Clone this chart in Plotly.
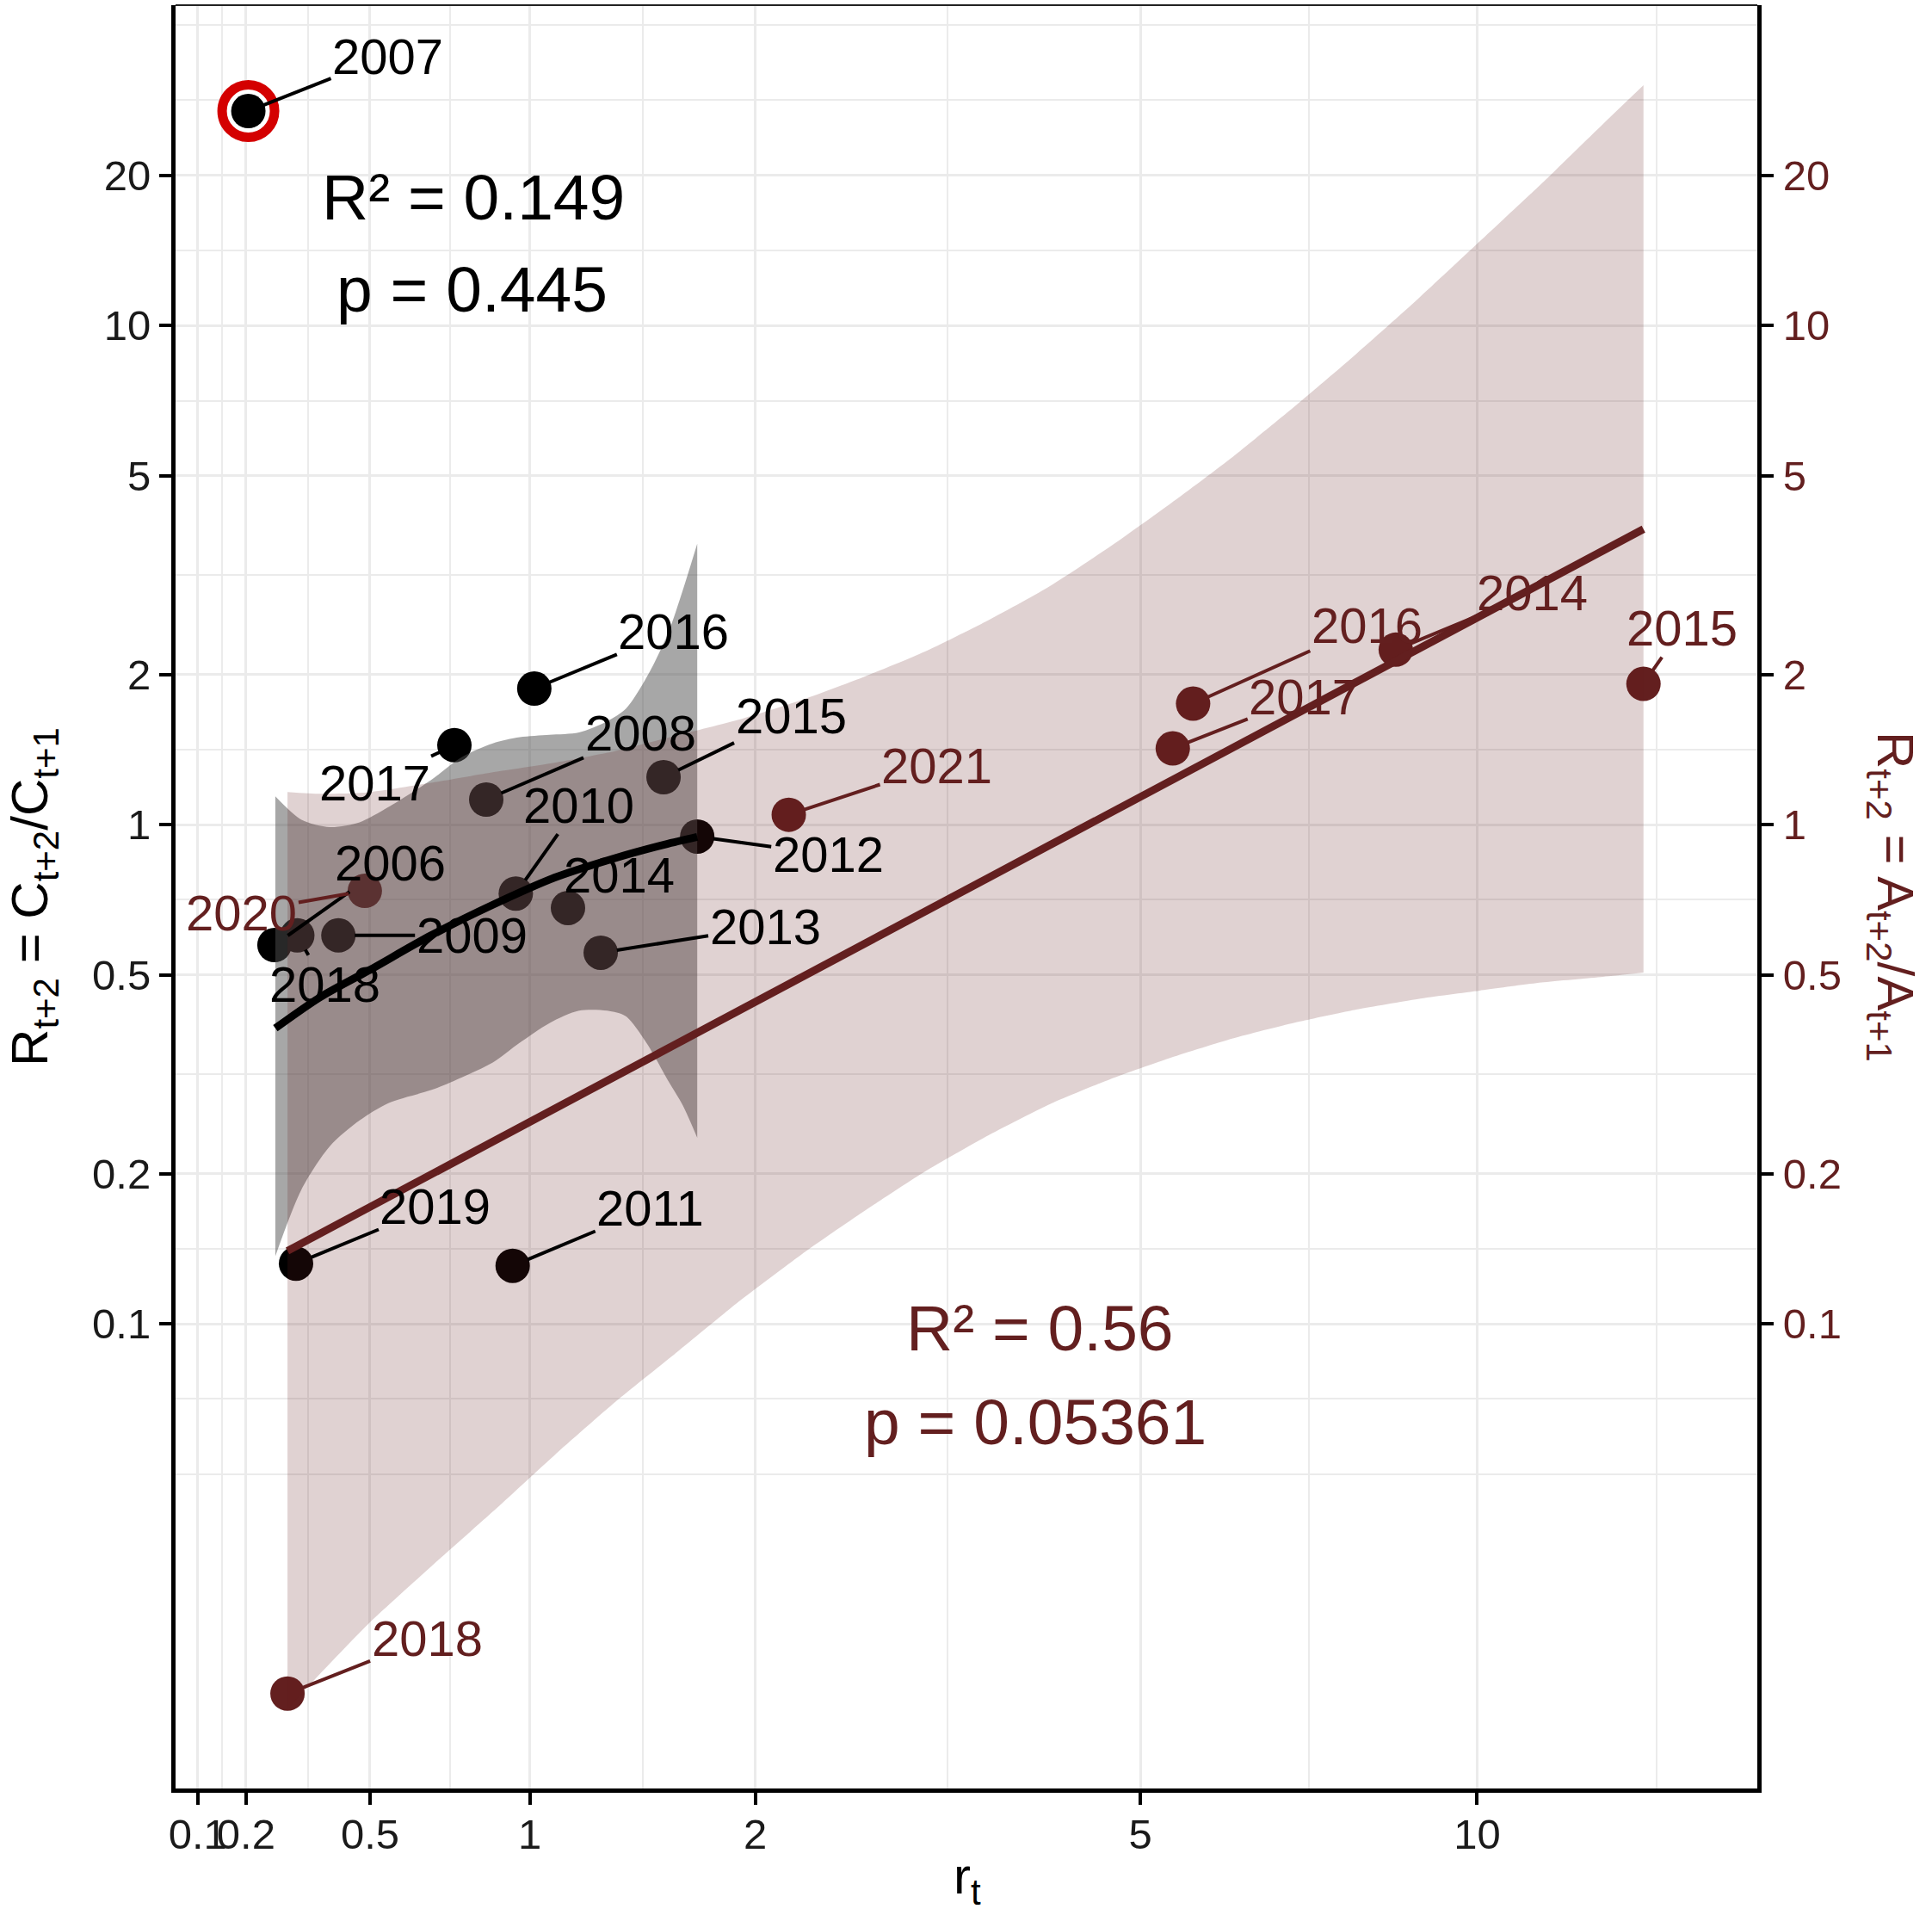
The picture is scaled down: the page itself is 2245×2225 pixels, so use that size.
import math
import plotly.graph_objects as go

# ---------------- data ----------------
# C series: R_{t+2} = C_{t+2}/C_{t+1} versus r_t
c_years = [2006, 2007, 2008, 2009, 2010, 2011, 2012, 2013, 2014, 2015, 2016, 2017, 2018, 2019]
c_r = [0.263, 0.205, 0.849, 0.417, 0.950, 0.939, 1.703, 1.272, 1.142, 1.544, 1.016, 0.746, 0.316, 0.313]
c_R = [0.574, 26.9, 1.123, 0.600, 0.728, 0.1307, 0.947, 0.554, 0.681, 1.245, 1.874, 1.443, 0.600, 0.132]
c_outlier_year = 2007

# A series: R_{t+2} = A_{t+2}/A_{t+1} versus r_t
a_years = [2014, 2015, 2016, 2017, 2018, 2020, 2021]
a_r = [8.502, 13.84, 5.598, 5.361, 0.293, 0.486, 2.187]
a_R = [2.242, 1.915, 1.748, 1.422, 0.01816, 0.737, 1.047]

# smooth fit for C series and its confidence band
c_fit_r = [0.265, 0.371, 0.498, 0.674, 0.871, 1.090, 1.335, 1.552, 1.703]
c_fit_R = [0.391, 0.451, 0.511, 0.600, 0.691, 0.783, 0.858, 0.913, 0.945]
c_band_r = [0.265, 0.326, 0.395, 0.472, 0.549, 0.678, 0.770, 0.871, 0.964, 1.072,
            1.185, 1.299, 1.377, 1.469, 1.564, 1.633, 1.703]
c_band_hi = [1.140, 1.023, 0.989, 1.011, 1.083, 1.234, 1.367, 1.455, 1.497, 1.514,
             1.531, 1.612, 1.707, 1.979, 2.414, 2.945, 3.656]
c_band_lo = [0.1367, 0.1859, 0.2267, 0.2555, 0.2766, 0.2945, 0.3118, 0.3338, 0.3656, 0.4004,
             0.4239, 0.4239, 0.4132, 0.3645, 0.3074, 0.2742, 0.2359]

# linear fit for A series and its confidence band
a_fit_r = [0.293, 13.84]
a_fit_R = [0.140, 3.91]
a_band_r = [0.293, 0.371, 0.498, 0.674, 0.871, 1.090, 1.335, 1.610, 1.916, 2.258, 2.641, 3.069,
            3.546, 4.080, 4.677, 5.343, 6.088, 6.920, 7.850, 8.890, 10.05, 11.35, 12.80, 13.84]
a_band_hi = [1.163, 1.153, 1.162, 1.213, 1.274, 1.331, 1.406, 1.511, 1.624, 1.776, 1.974, 2.220,
             2.555, 2.989, 3.600, 4.410, 5.461, 6.883, 8.774, 11.31, 14.74, 19.23, 25.35, 30.30]
a_band_lo = [0.01692, 0.01990, 0.02516, 0.03263, 0.04204, 0.05452, 0.06990, 0.08804, 0.1110,
             0.1375, 0.1674, 0.2016, 0.2373, 0.2744, 0.3088, 0.3415, 0.3731, 0.4011, 0.4262,
             0.4476, 0.4650, 0.4830, 0.4958, 0.5055]

x_ticks = [0.1, 0.2, 0.5, 1, 2, 5, 10]
x_tick_labels = ["0.1", "0.2", "0.5", "1", "2", "5", "10"]
y_ticks = [0.1, 0.2, 0.5, 1, 2, 5, 10, 20]
y_tick_labels = ["0.1", "0.2", "0.5", "1", "2", "5", "10", "20"]

c_stats = ["R² = 0.149", "p = 0.445"]
a_stats = ["R² = 0.56", "p = 0.05361"]

# ---------------- styling ----------------
BLACK = "#000000"
BROWN = "#631F1F"
RED = "#D40000"
FONT = "Liberation Sans, Arial, Helvetica, sans-serif"
GRID = "#EBEBEB"

# label offsets in pixels (label centre relative to the point)
c_label_off = {2006: (135, -96), 2007: (162, -64), 2008: (179, -77), 2009: (155, 0),
               2010: (73, -103), 2011: (160, -67), 2012: (152, 21), 2013: (191, -30),
               2014: (59, -38), 2015: (148, -72), 2016: (162, -67), 2017: (-93, 44),
               2018: (32, 57), 2019: (162, -67)}
a_label_off = {2014: (159, -66), 2015: (45, -65), 2016: (202, -91), 2017: (153, -60),
               2018: (162, -64), 2020: (-143, 25), 2021: (172, -57)}


def sh(v):
    """r_t is shown on a log(1 + r) scale: plot 1 + r on a log axis."""
    return [t + 1 for t in v]


fig = go.Figure()

# ring around the outlier year (drawn under the point)
i_out = c_years.index(c_outlier_year)
fig.add_trace(go.Scatter(x=sh([c_r[i_out]]), y=[c_R[i_out]], mode="markers",
                         marker=dict(size=61, color="white", line=dict(color=RED, width=11)),
                         hoverinfo="skip"))
# A points (under the ribbons)
fig.add_trace(go.Scatter(x=sh(a_r), y=a_R, mode="markers",
                         marker=dict(size=40, color=BROWN), text=a_years))
# C points
fig.add_trace(go.Scatter(x=sh(c_r), y=c_R, mode="markers",
                         marker=dict(size=40, color=BLACK), text=c_years))
# C band
fig.add_trace(go.Scatter(x=sh(c_band_r), y=c_band_lo, mode="lines",
                         line=dict(width=0, shape="spline", smoothing=0.8), hoverinfo="skip"))
fig.add_trace(go.Scatter(x=sh(c_band_r), y=c_band_hi, mode="lines",
                         line=dict(width=0, shape="spline", smoothing=0.8),
                         fill="tonexty", fillcolor="rgba(80,80,80,0.5)", hoverinfo="skip"))
# A band (on the right-hand axis which mirrors the left one)
fig.add_trace(go.Scatter(x=sh(a_band_r), y=a_band_lo, mode="lines", yaxis="y2",
                         line=dict(width=0, shape="spline", smoothing=0.6), hoverinfo="skip"))
fig.add_trace(go.Scatter(x=sh(a_band_r), y=a_band_hi, mode="lines", yaxis="y2",
                         line=dict(width=0, shape="spline", smoothing=0.6),
                         fill="tonexty", fillcolor="rgba(100,30,30,0.2)", hoverinfo="skip"))
# C fit (drawn above both bands)
fig.add_trace(go.Scatter(x=sh(c_fit_r), y=c_fit_R, mode="lines", yaxis="y2",
                         line=dict(width=9, color=BLACK, shape="spline", smoothing=0.8)))
# A fit
fig.add_trace(go.Scatter(x=sh(a_fit_r), y=a_fit_R, mode="lines", yaxis="y2",
                         line=dict(width=9, color=BROWN)))

# ---------------- axes ----------------
XR = [0.0241, 1.2604]
YR = [-1.931, 1.642]

x_grid_breaks = x_ticks + [20]
x_minor = [math.sqrt((a + 1) * (b + 1)) for a, b in zip(x_grid_breaks[:-1], x_grid_breaks[1:])]
y_ext = [y_ticks[0] / 2] + y_ticks + [y_ticks[-1] * 2]
y_minor = [y_ext[0]] + [math.sqrt(a * b) for a, b in zip(y_ext[:-1], y_ext[1:])] + [y_ext[-1]]

tick_common = dict(ticks="outside", ticklen=14, tickwidth=4, tickcolor="black",
                   showline=True, linecolor="black", linewidth=5, zeroline=False)

fig.update_layout(
    width=2245, height=2225,
    margin=dict(l=204, r=203, t=6, b=147),
    plot_bgcolor="white", paper_bgcolor="white",
    showlegend=False,
    font=dict(family=FONT, color="black"),
    xaxis=dict(type="log", range=XR, tickmode="array", tickvals=sh(x_ticks), ticktext=x_tick_labels,
               tickangle=0, tickfont=dict(size=49, color="#1A1A1A", family=FONT),
               showgrid=True, gridcolor=GRID, gridwidth=3,
               minor=dict(tickmode="array", tickvals=x_minor, showgrid=True, gridcolor=GRID,
                          gridwidth=2, ticks=""),
               ticklabelstandoff=-8, **tick_common),
    yaxis=dict(type="log", range=YR, tickmode="array", tickvals=y_ticks, ticktext=y_tick_labels,
               tickfont=dict(size=49, color="#1A1A1A", family=FONT),
               showgrid=True, gridcolor=GRID, gridwidth=3,
               minor=dict(tickmode="array", tickvals=y_minor, showgrid=True, gridcolor=GRID,
                          gridwidth=2, ticks=""),
               ticklabelstandoff=0, **tick_common),
    yaxis2=dict(type="log", range=YR, overlaying="y", side="right", tickmode="array",
                tickvals=y_ticks, ticktext=y_tick_labels,
                tickfont=dict(size=49, color=BROWN, family=FONT),
                showgrid=False, ticklabelstandoff=1, **tick_common),
)

# top border of the panel
fig.add_shape(type="line", xref="paper", yref="paper", x0=0, x1=1, y0=1, y1=1,
              line=dict(color="#222222", width=2))

ann = []
# year labels
for yr, r, R in zip(c_years, c_r, c_R):
    ax, ay = c_label_off[yr]
    ann.append(dict(x=math.log10(r + 1), y=math.log10(R), xref="x", yref="y", text=str(yr),
                    showarrow=True, arrowhead=0, arrowwidth=4, arrowcolor=BLACK, standoff=19,
                    ax=ax, ay=ay, font=dict(size=58, color=BLACK, family=FONT)))
for yr, r, R in zip(a_years, a_r, a_R):
    ax, ay = a_label_off[yr]
    ann.append(dict(x=math.log10(r + 1), y=math.log10(R), xref="x", yref="y", text=str(yr),
                    showarrow=True, arrowhead=0, arrowwidth=4, arrowcolor=BROWN, standoff=19,
                    ax=ax, ay=ay, font=dict(size=58, color=BROWN, family=FONT)))


def txt(x, y, text, size, color, angle=0):
    return dict(x=x, y=y, xref="paper", yref="paper", text=text, showarrow=False,
                xanchor="center", yanchor="middle", textangle=angle,
                font=dict(size=size, color=color, family=FONT))


# statistics
ann.append(txt(0.1885, 0.8924, c_stats[0], 75, BLACK))
ann.append(txt(0.1877, 0.8407, c_stats[1], 75, BLACK))
ann.append(txt(0.5463, 0.2582, a_stats[0], 75, BROWN))
ann.append(txt(0.5437, 0.2056, a_stats[1], 75, BROWN))
# axis titles
ann.append(txt(-0.0898, 0.5, "R<sub>t+2</sub> = C<sub>t+2</sub>/C<sub>t+1</sub>", 60, BLACK, -90))
ann.append(txt(1.0849, 0.5, "R<sub>t+2</sub> = A<sub>t+2</sub>/A<sub>t+1</sub>", 60, BROWN, 90))
ann.append(txt(0.5005, -0.0512, "r<sub>t</sub>", 60, BLACK))
fig.update_layout(annotations=ann)

fig.write_html("out.html")
